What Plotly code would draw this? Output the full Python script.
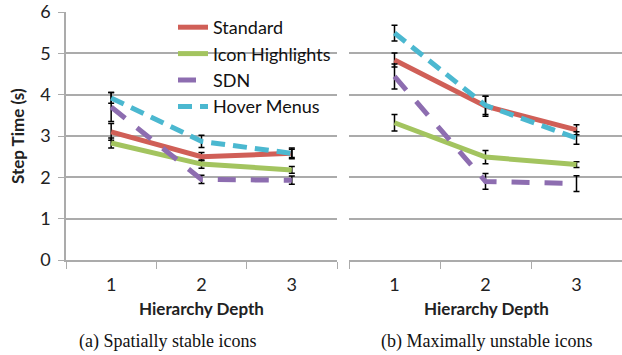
import plotly.graph_objects as go

depths = ["1", "2", "3"]
series = ["Standard", "Icon Highlights", "SDN", "Hover Menus"]
colors = {"Standard": "#D05F57", "Icon Highlights": "#A3C45F",
          "SDN": "#8D6DB0", "Hover Menus": "#4BB8D0"}
dashes = {"Standard": "solid", "Icon Highlights": "solid",
          "SDN": "18px,15px", "Hover Menus": "14px,8px"}

# (a) Spatially stable icons
stable_mean = {"Standard": [3.10, 2.50, 2.58],
               "Icon Highlights": [2.83, 2.32, 2.18],
               "SDN": [3.70, 1.95, 1.93],
               "Hover Menus": [3.92, 2.87, 2.58]}
stable_err = {"Standard": [0.20, 0.10, 0.10],
              "Icon Highlights": [0.12, 0.10, 0.08],
              "SDN": [0.35, 0.10, 0.10],
              "Hover Menus": [0.13, 0.15, 0.13]}
# (b) Maximally unstable icons
unstable_mean = {"Standard": [4.84, 3.72, 3.15],
                 "Icon Highlights": [3.32, 2.49, 2.31],
                 "SDN": [4.44, 1.90, 1.85],
                 "Hover Menus": [5.49, 3.74, 2.95]}
unstable_err = {"Standard": [0.17, 0.24, 0.12],
                "Icon Highlights": [0.20, 0.16, 0.07],
                "SDN": [0.30, 0.19, 0.19],
                "Hover Menus": [0.19, 0.22, 0.15]}

y_ticks = [0, 1, 2, 3, 4, 5, 6]

fig = go.Figure()
for s in series:
    for panel, (mean, err) in enumerate([(stable_mean, stable_err), (unstable_mean, unstable_err)]):
        fig.add_trace(go.Scatter(
            x=depths, y=mean[s], mode="lines", name=s,
            legendgroup=s, showlegend=(panel == 0),
            xaxis="x" if panel == 0 else "x2", yaxis="y" if panel == 0 else "y2",
            line=dict(color=colors[s], width=5, dash=dashes[s]),
            error_y=dict(type="data", array=err[s], color="black", thickness=1.5, width=3),
        ))

grid_c = "#ABABAB"
y_dom = [(355 - 260) / 355, (355 - 12) / 355]
common_x = dict(type="category", tickson="boundaries", ticks="outside", ticklen=7,
                tickcolor=grid_c, showline=True, linecolor=grid_c, linewidth=1.5,
                showgrid=False, tickfont=dict(family="Lato", size=18, color="#222"),
                range=[-0.5, 2.5], automargin=False, ticklabelstandoff=8)
fig.update_layout(
    width=622, height=355, margin=dict(l=0, r=0, t=0, b=0, autoexpand=False),
    paper_bgcolor="white", plot_bgcolor="white",
    font=dict(family="Lato", size=18, color="#222"),
    xaxis=dict(common_x, domain=[66 / 622, 337 / 622], anchor="y"),
    xaxis2=dict(common_x, domain=[349 / 622, 1.0], anchor="y2"),
    yaxis=dict(domain=y_dom, range=[0, 6], tickvals=y_ticks, showgrid=True,
               gridcolor=grid_c, gridwidth=1.5, showline=True, linecolor=grid_c,
               linewidth=1.5, ticks="outside", ticklen=6, tickcolor=grid_c,
               tickfont=dict(family="Lato", size=18, color="#222"), zeroline=False,
               anchor="x", automargin=False, ticklabelstandoff=4),
    yaxis2=dict(domain=y_dom, range=[0, 6], tickvals=y_ticks, showgrid=True,
                gridcolor=grid_c, gridwidth=1.5, showticklabels=False, showline=False,
                zeroline=False, anchor="x2", automargin=False),
    showlegend=True,
    legend=dict(x=173 / 622, y=(355 - 9) / 355, xanchor="left", yanchor="top",
                bgcolor="rgba(255,255,255,0)", font=dict(family="Lato", size=18, color="#111"),
                tracegroupgap=2.5, traceorder="normal"),
)

ann = [
    dict(text="<b>Step Time (s)</b>", x=17 / 622, y=(355 - 136) / 355, textangle=-90,
         font=dict(family="Lato", size=17)),
    dict(text="<b>Hierarchy Depth</b>", x=201 / 622, y=(355 - 308) / 355,
         font=dict(family="Lato", size=17)),
    dict(text="<b>Hierarchy Depth</b>", x=487 / 622, y=(355 - 308) / 355,
         font=dict(family="Lato", size=17)),
    dict(text="(a) Spatially stable icons", x=167 / 622, y=(355 - 341) / 355,
         font=dict(family="Liberation Serif", size=18, color="#111")),
    dict(text="(b) Maximally unstable icons", x=487 / 622, y=(355 - 341) / 355,
         font=dict(family="Liberation Serif", size=18, color="#111")),
]
for a in ann:
    fig.add_annotation(xref="paper", yref="paper", showarrow=False,
                       xanchor="center", yanchor="middle", **a)

fig.write_html("out.html", config={"displayModeBar": False},
               post_script="document.body.style.margin='0';document.body.style.padding='0';")
